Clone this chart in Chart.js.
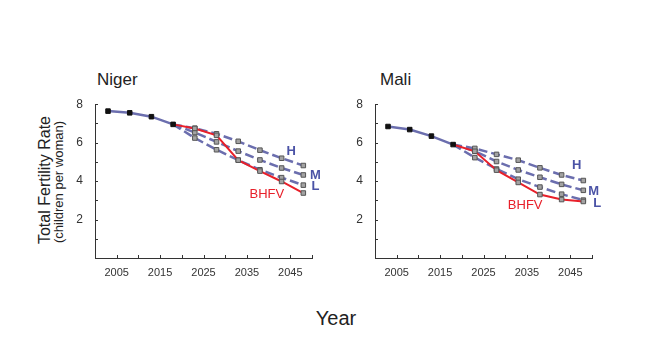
<!DOCTYPE html>
<html lang="en">
<head>
<meta charset="utf-8">
<script src="https://cdn.jsdelivr.net/npm/chart.js@4.4.1/dist/chart.umd.min.js"></script>
<style>
  body { margin: 0; background: #fff; font-family: "Liberation Sans", Arial, sans-serif; }
  #wrap { position: relative; width: 645px; height: 348px; overflow: hidden; }
  canvas { position: absolute; }
  .t { position: absolute; color: #222; white-space: nowrap; line-height: 1; }
</style>
</head>
<body>
<div id="wrap">
  <div class="t" style="left:97px;top:71px;font-size:17px">Niger</div>
  <div class="t" style="left:380px;top:71px;font-size:17px">Mali</div>
  <div class="t" style="left:45px;top:180px;font-size:16px;transform:translate(-50%,-50%) rotate(-90deg)">Total Fertility Rate</div>
  <div class="t" style="left:58px;top:182px;font-size:13px;transform:translate(-50%,-50%) rotate(-90deg)">(children per woman)</div>
  <div class="t" style="left:336px;top:308px;font-size:20px;transform:translateX(-50%)">Year</div>
  <canvas id="niger" width="270" height="200" style="left:60px;top:85px"></canvas>
  <canvas id="mali" width="270" height="200" style="left:340px;top:85px"></canvas>
</div>
<script>
// periods (mid-points of 5-year periods)
const pastYears = [2003, 2008, 2013, 2018];
const projYears = [2018, 2023, 2028, 2033, 2038, 2043, 2048];

// Niger
const nigerPast = [7.64, 7.55, 7.35, 6.95];
const nigerH = [6.95, 6.75, 6.46, 6.07, 5.61, 5.19, 4.81];
const nigerM = [6.95, 6.53, 6.04, 5.56, 5.10, 4.68, 4.32];
const nigerL = [6.95, 6.24, 5.63, 5.09, 4.59, 4.18, 3.79];
const nigerBHFV = [6.95, 6.74, 6.38, 5.09, 4.52, 3.98, 3.38];

// Mali
const maliPast = [6.84, 6.68, 6.34, 5.90];
const maliH = [5.90, 5.70, 5.39, 5.09, 4.69, 4.32, 4.03];
const maliM = [5.90, 5.56, 5.02, 4.58, 4.20, 3.83, 3.52];
const maliL = [5.90, 5.22, 4.63, 4.10, 3.69, 3.32, 3.01];
const maliBHFV = [5.90, 5.55, 4.57, 3.93, 3.30, 3.04, 2.94];

const blue = "#6b6eae";
const red = "#e8202a";
const labelBlue = "#4b53a6";

const pts = (xs, ys) => xs.map((x, i) => ({ x: x, y: ys[i] }));

// small tick marks pointing into the plot
const tickMarks = {
  id: "tickMarks",
  afterDraw(chart) {
    const { ctx, chartArea: a, scales: { x, y } } = chart;
    ctx.save();
    ctx.strokeStyle = "#333";
    ctx.lineWidth = 1;
    ctx.beginPath();
    x.ticks.forEach(t => {
      const px = Math.round(x.getPixelForValue(t.value)) + 0.5;
      ctx.moveTo(px, a.bottom);
      ctx.lineTo(px, a.bottom - 3);
    });
    y.ticks.forEach(t => {
      const py = Math.round(y.getPixelForValue(t.value)) + 0.5;
      ctx.moveTo(a.left, py);
      ctx.lineTo(a.left + 3, py);
    });
    ctx.stroke();
    ctx.restore();
  },
};

// scenario labels placed in data units
const seriesLabels = {
  id: "seriesLabels",
  afterDraw(chart, args, opts) {
    const { ctx, scales: { x, y } } = chart;
    ctx.save();
    ctx.textAlign = "center";
    ctx.textBaseline = "middle";
    opts.items.forEach(it => {
      ctx.fillStyle = it.color;
      ctx.font = (it.bold ? "bold " : "") + "13px 'Liberation Sans', Arial, sans-serif";
      ctx.fillText(it.text, x.getPixelForValue(it.x), y.getPixelForValue(it.y));
    });
    ctx.restore();
  },
};

const projSet = (label, data, color, dashed) => ({
  label: label,
  data: pts(projYears, data),
  borderColor: color,
  borderWidth: dashed ? 2.5 : 2,
  borderDash: dashed ? [9, 4] : [],
  pointStyle: "rect",
  pointRadius: c => (c.dataIndex === 0 ? 0 : 3.2),
  pointBackgroundColor: "#a3a3a3",
  pointBorderColor: "#555",
  pointBorderWidth: 1,
  tension: 0,
});

const buatChart = (id, past, h, m, l, bhfv, labels) => {
  new Chart(document.getElementById(id), {
    type: "line",
    data: {
      datasets: [
        {
          label: "past",
          data: pts(pastYears, past),
          borderColor: blue,
          borderWidth: 2.5,
          pointStyle: "rect",
          pointRadius: 3.2,
          pointBackgroundColor: "#111",
          pointBorderColor: "#111",
          pointBorderWidth: 1,
        },
        projSet("BHFV", bhfv, red, false),
        projSet("H", h, blue, true),
        projSet("M", m, blue, true),
        projSet("L", l, blue, true),
      ],
    },
    options: {
      responsive: false,
      animation: false,
      devicePixelRatio: 1,
      layout: { padding: { top: 8, right: 18, left: 0, bottom: 0 } },
      plugins: {
        legend: { display: false },
        tooltip: { enabled: false },
        seriesLabels: { items: labels },
      },
      scales: {
        x: {
          type: "linear",
          min: 2000,
          max: 2050,
          afterFit: s => { s.height = 27; },
          grid: { display: false, drawTicks: false },
          border: { color: "#333", width: 1 },
          ticks: {
            stepSize: 5,
            padding: 8,
            color: "#333",
            font: { size: 11, family: "'Liberation Sans', Arial, sans-serif" },
            maxRotation: 0,
            autoSkip: false,
            callback: v => (v % 10 === 5 ? String(v) : ""),
          },
        },
        y: {
          min: 0,
          max: 8,
          afterFit: s => { s.width = 35; },
          grid: { display: false, drawTicks: false },
          border: { color: "#333", width: 1 },
          ticks: {
            stepSize: 1,
            padding: 12,
            color: "#333",
            font: { size: 12, family: "'Liberation Sans', Arial, sans-serif" },
            callback: v => (v > 0 && v % 2 === 0 ? String(v) : ""),
          },
        },
      },
    },
    plugins: [tickMarks, seriesLabels],
  });
};

buatChart("niger", nigerPast, nigerH, nigerM, nigerL, nigerBHFV, [
  { text: "H", x: 2045.2, y: 5.52, color: labelBlue, bold: true },
  { text: "M", x: 2050.8, y: 4.31, color: labelBlue, bold: true },
  { text: "L", x: 2050.8, y: 3.73, color: labelBlue, bold: true },
  { text: "BHFV", x: 2039.6, y: 3.30, color: red, bold: false },
]);

buatChart("mali", maliPast, maliH, maliM, maliL, maliBHFV, [
  { text: "H", x: 2046.5, y: 4.79, color: labelBlue, bold: true },
  { text: "M", x: 2050.4, y: 3.47, color: labelBlue, bold: true },
  { text: "L", x: 2051.2, y: 2.85, color: labelBlue, bold: true },
  { text: "BHFV", x: 2034.6, y: 2.73, color: red, bold: false },
]);
</script>
</body>
</html>
